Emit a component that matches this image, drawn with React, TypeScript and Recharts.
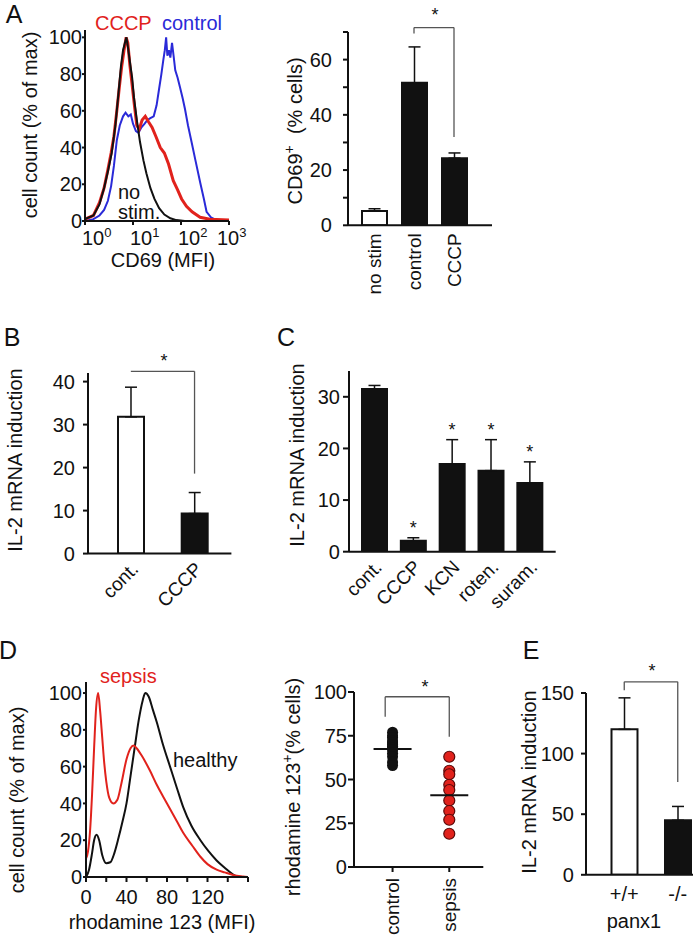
import React from 'react'
import {
  ComposedChart,
  LineChart,
  Line,
  Bar,
  Cell,
  Scatter,
  XAxis,
  YAxis,
  ErrorBar,
  ReferenceLine,
} from 'recharts'

const FONT = '"Liberation Sans", Arial, Helvetica, sans-serif'
const INK = '#111111'
const RED = '#e1221c'
const BLUE = '#2a2ad8'
const GREY = '#555555'

// A, left: CD69 histograms (MFI, log axis)
const noStimX = [1, 1.5, 2, 2.5, 3, 3.6, 4.3, 5, 5.6, 6.2, 6.8, 7.3, 8, 8.8, 9.6, 10.5, 12, 14, 16.5, 19, 23, 28, 35, 45, 60, 80, 120]
const noStimY = [1, 3, 9, 18, 27, 37, 52, 70, 84, 93, 97, 100, 93, 85, 78, 67, 55, 43, 33, 26, 18, 12, 7, 3.5, 1.5, 0.5, 0]
const cccpX = [1, 1.5, 2, 2.5, 3, 3.5, 4, 4.6, 5.2, 5.8, 6.5, 7.2, 7.8, 8.6, 9.6, 10.8, 12, 13.5, 15.5, 18, 21, 25, 30, 37, 45, 55, 69, 85, 103, 130, 170, 250, 400, 1000]
const cccpY = [1, 3, 10, 18, 28, 37, 46, 60, 73, 84, 93, 100, 97, 85, 74, 62, 52, 50, 55, 57, 54, 51, 46, 40, 37, 31, 22, 17, 12, 8, 5, 2, 1, 0.5]
const controlX = [1, 1.5, 2, 2.5, 3, 3.5, 4, 4.6, 5.3, 6.2, 7, 8, 9, 10, 11.5, 13, 15, 17.5, 20, 23, 27, 31, 35, 39, 43, 46, 49, 52, 56, 60, 65, 70, 76, 85, 95, 108, 121, 140, 166, 200, 251, 300, 341, 420, 550, 1000]
const controlY = [0, 1, 3, 6, 11, 19, 30, 44, 52, 57, 59, 57, 58, 53, 49, 48, 51, 53, 55, 56, 57, 63, 72, 80, 88, 93, 100, 90, 93, 89, 97, 90, 82, 78, 73, 67, 61, 52, 43, 33, 21, 12, 5, 2, 0.5, 0]
const histTicks = [0, 20, 40, 60, 80, 100]
const logTicks = [1, 10, 100, 1000]

// A, right: % CD69+ cells
const cd69Groups = ['no stim', 'control', 'CCCP']
const cd69Mean = [5.2, 51.6, 24.3]
const cd69Err = [0.8, 13, 1.9]
const cd69Ticks = [0, 10, 20, 30, 40, 50, 60, 70]

// B
const il2Groups = ['cont.', 'CCCP']
const il2Mean = [31.8, 9.3]
const il2Err = [6.9, 4.9]
const il2Ticks = [0, 10, 20, 30, 40]

// C
const inhGroups = ['cont.', 'CCCP', 'KCN', 'roten.', 'suram.']
const inhMean = [31.5, 2.1, 17.0, 15.7, 13.3]
const inhErr = [0.7, 0.6, 4.7, 6.0, 4.1]
const inhSignificant = [false, true, true, true, true]
const inhTicks = [0, 10, 20, 30]

// D, left: rhodamine 123 histograms
const sepsisX = [0, 2, 4, 6, 8, 10, 12, 14, 16, 18, 20, 23, 27, 31, 35, 40, 44, 47, 50, 55, 63, 70, 80, 90, 96, 105, 113, 120, 129, 137, 146, 155, 160]
const sepsisY = [10, 14, 25, 45, 70, 92, 100, 90, 76, 62, 52, 43, 40, 42, 51, 64, 70, 71.5, 70, 66, 58, 50, 40, 30, 24, 17, 11, 7, 4, 2.5, 1, 0.3, 0]
const healthyX = [0, 3, 6, 8, 10.5, 13, 16, 20, 24, 28, 32, 36, 40, 44, 48, 52, 56, 58.5, 62, 66, 70, 76, 83, 90, 96, 104, 113, 121, 129, 137, 145, 150]
const healthyY = [0, 4, 13, 20, 23, 20, 12, 7.5, 8, 13, 21, 30, 40, 55, 70, 85, 96, 100, 98, 91, 84, 72, 60, 48, 38, 28, 20, 14, 9, 5, 1.5, 0]
const rhoXTicks = [0, 20, 40, 60, 80, 100, 120, 140, 160]

// D, right: rhodamine 123+ cells
const rhoGroups = ['control', 'sepsis']
const rhoControl = [77, 75, 74, 72, 71, 70, 69, 68, 67, 65, 63, 60, 58]
const rhoSepsis = [63, 55, 53, 47, 44, 38, 32, 27, 19]
const rhoMean = [67.5, 41]
const rhoTicks = [0, 25, 50, 75, 100]

// E
const panxGroups = ['+/+', '-/-']
const panxMean = [120, 45]
const panxErr = [26, 11.4]
const panxTicks = [0, 50, 100, 150]

type Box = { x1: number; y1: number; x2: number; y2: number }
const PL = 70
const PT = 40
const PR = 20
const PB = 80
const margin = { top: PT, right: PR, bottom: 0, left: 0 }

function frame(b: Box) {
  return {
    style: { position: 'absolute' as const, left: b.x1 - PL, top: b.y1 - PT },
    width: b.x2 - b.x1 + PL + PR,
    height: b.y2 - b.y1 + PT + PB,
  }
}

const axisLine = { stroke: INK, strokeWidth: 2 }
const tickFont = { fill: INK, fontSize: 20, fontFamily: FONT }
const zip = (xs: number[], ys: number[]) => xs.map((x, i) => ({ x, y: ys[i] }))

function PowTick({ x, y, payload }: any) {
  const e = Math.round(Math.log10(payload.value))
  // the last decade label is pulled in a little, as in the figure
  const left = e === 3 ? x - 12 : x - 3
  return (
    <text x={left} y={y + 18} textAnchor="start" fill={INK} fontSize={20} fontFamily={FONT}>
      10<tspan dy={-8} fontSize={13}>{e}</tspan>
    </text>
  )
}

const vTick = (names?: string[]) => (p: any) => {
  const label = names ? names[p.payload.value - 1] : p.payload.value
  return (
    <text x={p.x} y={p.y} transform={`rotate(-90 ${p.x} ${p.y})`} textAnchor="end" dy="0.35em" fontSize={19} fill={INK} fontFamily={FONT}>
      {label}
    </text>
  )
}

function DiagTick({ x, y, payload }: any) {
  const ax = x + 4
  return (
    <text x={ax} y={y} transform={`rotate(-45 ${ax} ${y})`} textAnchor="end" dy="0.35em" fontSize={19} fill={INK} fontFamily={FONT}>
      {payload.value}
    </text>
  )
}

function StarDot(p: any) {
  if (p.cy == null || p.value == null) return <g key={`s-${p.index}`} />
  return (
    <text key={`s-${p.index}`} x={p.cx} y={p.cy - 4} textAnchor="middle" fontSize={18} fill={INK} fontFamily={FONT}>
      *
    </text>
  )
}

function bracket(id: string, a: any, b: any, top: number, leftEnd: number | null, rightEnd: number) {
  const common = { stroke: GREY, strokeWidth: 1.3, ifOverflow: 'visible' as const }
  const out = [
    <ReferenceLine key={`${id}-t`} segment={[{ x: a, y: top }, { x: b, y: top }]} {...common} />,
    <ReferenceLine key={`${id}-r`} segment={[{ x: b, y: top }, { x: b, y: rightEnd }]} {...common} />,
  ]
  if (leftEnd != null) {
    out.push(<ReferenceLine key={`${id}-l`} segment={[{ x: a, y: top }, { x: a, y: leftEnd }]} {...common} />)
  }
  return out
}

function CD69Histogram() {
  const s = frame({ x1: 85, y1: 30, x2: 229, y2: 221 })
  const lineProps = { dataKey: 'y', dot: false, activeDot: false, type: 'linear' as const, isAnimationActive: false }
  return (
    <div style={s.style}>
      <LineChart width={s.width} height={s.height} margin={margin}>
        <XAxis type="number" dataKey="x" scale="log" domain={[1, 1000]} ticks={logTicks} allowDataOverflow height={PB}
          axisLine={axisLine} tickLine={axisLine} tickSize={4} tickMargin={2} tick={(p: any) => <PowTick {...p} />} interval={0} />
        <YAxis type="number" domain={[0, 104]} ticks={histTicks} allowDataOverflow width={PL}
          axisLine={axisLine} tickLine={axisLine} tickSize={3} tickMargin={0} tick={tickFont} interval={0} />
        <Line {...lineProps} data={zip(controlX, controlY)} stroke={BLUE} strokeWidth={2} />
        <Line {...lineProps} data={zip(cccpX, cccpY)} stroke={RED} strokeWidth={3} />
        <Line {...lineProps} data={zip(noStimX, noStimY)} stroke={INK} strokeWidth={2} />
      </LineChart>
    </div>
  )
}

function BarPanel(props: any) {
  const { box, groups, mean, err, openFirst, domain, ticks, fmt, pad, barSize, xTick, xTickMargin, yTickSize, yTickMargin, stars, children } = props
  const rows = groups.map((g: string, i: number) => ({
    g,
    m: mean[i],
    e: [0, err[i]],
    star: stars && stars[i] ? mean[i] + err[i] : null,
  }))
  const s = frame(box)
  return (
    <div style={s.style}>
      <ComposedChart width={s.width} height={s.height} data={rows} margin={margin}>
        <XAxis dataKey="g" height={PB} padding={pad} axisLine={axisLine} tickLine={false} tickSize={0}
          tickMargin={xTickMargin} tick={xTick} interval={0} />
        <YAxis type="number" domain={domain} ticks={ticks} tickFormatter={fmt} allowDataOverflow width={PL}
          axisLine={axisLine} tickLine={axisLine} tickSize={yTickSize} tickMargin={yTickMargin} tick={tickFont} interval={0} />
        <Bar dataKey="m" barSize={barSize} stroke={INK} strokeWidth={2} isAnimationActive={false}>
          {rows.map((r: any, i: number) => (
            <Cell key={r.g} fill={openFirst && i === 0 ? '#ffffff' : INK} />
          ))}
          <ErrorBar dataKey="e" width={6} stroke={INK} strokeWidth={1.5} />
        </Bar>
        {stars && (
          <Line dataKey="star" stroke="none" dot={StarDot} activeDot={false} isAnimationActive={false} />
        )}
        {children}
      </ComposedChart>
    </div>
  )
}

function RhoHistogram() {
  const s = frame({ x1: 86, y1: 681.7, x2: 248, y2: 876.7 })
  const lineProps = { dataKey: 'y', dot: false, activeDot: false, type: 'monotone' as const, isAnimationActive: false, strokeWidth: 2 }
  return (
    <div style={s.style}>
      <LineChart width={s.width} height={s.height} margin={margin}>
        <XAxis type="number" dataKey="x" domain={[0, 160]} ticks={rhoXTicks} allowDataOverflow height={PB}
          tickFormatter={(v: number) => (v % 40 === 0 && v < 160 ? String(v) : '')}
          axisLine={axisLine} tickLine={axisLine} tickSize={5} tickMargin={8} tick={tickFont} interval={0} />
        <YAxis type="number" domain={[0, 106]} ticks={histTicks} allowDataOverflow width={PL}
          axisLine={axisLine} tickLine={axisLine} tickSize={3} tickMargin={1} tick={tickFont} interval={0} />
        <Line {...lineProps} data={zip(healthyX, healthyY)} stroke={INK} />
        <Line {...lineProps} data={zip(sepsisX, sepsisY)} stroke={RED} />
      </LineChart>
    </div>
  )
}

function RhoScatter() {
  const s = frame({ x1: 354, y1: 692, x2: 483.3, y2: 867 })
  const ctrl = rhoControl.map((v) => ({ x: 1, y: v }))
  const seps = rhoSepsis.map((v) => ({ x: 2, y: v }))
  const mid = rhoMean.map((v, i) => ({ x: i + 1, y: v }))
  return (
    <div style={s.style}>
      <ComposedChart width={s.width} height={s.height} margin={margin}>
        <XAxis type="number" dataKey="x" domain={[0.32, 2.6]} ticks={[1, 2]} allowDataOverflow height={PB}
          axisLine={axisLine} tickLine={axisLine} tickSize={5} tickMargin={6} tick={vTick(rhoGroups)} interval={0} />
        <YAxis type="number" dataKey="y" domain={[0, 100]} ticks={rhoTicks} allowDataOverflow width={PL}
          axisLine={axisLine} tickLine={axisLine} tickSize={6} tickMargin={1} tick={tickFont} interval={0} />
        <Scatter data={ctrl} isAnimationActive={false}
          shape={(p: any) => <circle cx={p.cx} cy={p.cy} r={5.5} fill={INK} />} />
        <Scatter data={seps} isAnimationActive={false}
          shape={(p: any) => <circle cx={p.cx} cy={p.cy} r={5.5} fill={RED} stroke="#5a0a0a" strokeWidth={1.2} />} />
        <Scatter data={mid} isAnimationActive={false}
          shape={(p: any) => <line x1={p.cx - 19} x2={p.cx + 19} y1={p.cy} y2={p.cy} stroke={INK} strokeWidth={2} />} />
        {bracket('d', 0.87, 2, 97.3, 85.9, 74.5)}
      </ComposedChart>
    </div>
  )
}

function Label({ x, y, children, size = 20, color = INK, rotate = false, align = 'center' }: any) {
  const tx = align === 'left' ? '0' : '-50%'
  return (
    <div
      style={{
        position: 'absolute',
        left: x,
        top: y,
        transform: `translate(${tx}, -50%)${rotate ? ' rotate(-90deg)' : ''}`,
        fontSize: size,
        lineHeight: 1.1,
        color,
        whiteSpace: 'nowrap',
        fontFamily: FONT,
      }}
    >
      {children}
    </div>
  )
}

const sup = { fontSize: '0.7em', lineHeight: 0, verticalAlign: 'super' as const }

export default function App() {
  return (
    <div style={{ position: 'absolute', left: 0, top: 0, width: 693, height: 950, overflow: 'hidden', background: '#fff' }}>
      <CD69Histogram />
      <BarPanel
        box={{ x1: 348, y1: 31.7, x2: 492, y2: 225 }}
        groups={cd69Groups} mean={cd69Mean} err={cd69Err} openFirst
        domain={[0, 70]} ticks={cd69Ticks} fmt={(v: number) => (v % 20 === 0 ? String(v) : '')}
        pad={{ left: 6, right: 18 }} barSize={25}
        xTick={vTick()} xTickMargin={8} yTickSize={5} yTickMargin={11}
      >
        {bracket('a', 'control', 'CCCP', 71.6, 69.5, 32)}
      </BarPanel>
      <BarPanel
        box={{ x1: 88.3, y1: 372.7, x2: 231.7, y2: 553.3 }}
        groups={il2Groups} mean={il2Mean} err={il2Err} openFirst
        domain={[0, 42]} ticks={il2Ticks}
        pad={{ left: 11, right: 5 }} barSize={26}
        xTick={(p: any) => <DiagTick {...p} />} xTickMargin={12} yTickSize={5} yTickMargin={8}
      >
        {bracket('b', 'cont.', 'CCCP', 42.4, null, 18.6)}
      </BarPanel>
      <BarPanel
        box={{ x1: 349.3, y1: 371, x2: 556, y2: 551.7 }}
        groups={inhGroups} mean={inhMean} err={inhErr} stars={inhSignificant}
        domain={[0, 35]} ticks={inhTicks}
        pad={{ left: 6, right: 6.5 }} barSize={25}
        xTick={(p: any) => <DiagTick {...p} />} xTickMargin={12} yTickSize={6} yTickMargin={3}
      />
      <RhoHistogram />
      <RhoScatter />
      <BarPanel
        box={{ x1: 585.5, y1: 692.7, x2: 709, y2: 874.5 }}
        groups={panxGroups} mean={panxMean} err={panxErr} openFirst
        domain={[0, 150]} ticks={panxTicks}
        pad={{ left: 11.5, right: 5 }} barSize={26}
        xTick={tickFont} xTickMargin={12} yTickSize={5} yTickMargin={7}
      >
        {bracket('e', '+/+', '-/-', 159.2, 152.2, 76.6)}
      </BarPanel>

      <Label x={14} y={15} size={25}>A</Label>
      <Label x={95} y={23} color={RED} align="left">CCCP</Label>
      <Label x={162} y={23} color={BLUE} align="left">control</Label>
      <Label x={118} y={192} align="left">no</Label>
      <Label x={118} y={212} align="left">stim.</Label>
      <Label x={30} y={125} rotate>cell count (% of max)</Label>
      <Label x={163} y={260}>CD69 (MFI)</Label>
      <Label x={295} y={131} rotate>CD69<sup style={sup}>+</sup>&nbsp;&nbsp;(% cells)</Label>
      <Label x={435} y={16} size={18}>*</Label>

      <Label x={12} y={338} size={25}>B</Label>
      <Label x={15} y={460} rotate>IL-2 mRNA induction</Label>
      <Label x={164} y={362} size={18}>*</Label>

      <Label x={286} y={338} size={25}>C</Label>
      <Label x={297} y={455} rotate>IL-2 mRNA induction</Label>

      <Label x={8} y={651} size={25}>D</Label>
      <Label x={100} y={676} color={RED} align="left">sepsis</Label>
      <Label x={173} y={760} align="left">healthy</Label>
      <Label x={17} y={800} rotate>cell count (% of max)</Label>
      <Label x={162} y={922}>rhodamine 123 (MFI)</Label>
      <Label x={293} y={787} rotate>rhodamine 123<sup style={sup}>+</sup>(% cells)</Label>
      <Label x={425} y={688} size={18}>*</Label>

      <Label x={531} y={651} size={25}>E</Label>
      <Label x={529} y={782} rotate>IL-2 mRNA induction</Label>
      <Label x={652} y={672} size={18}>*</Label>
      <Label x={634} y={921}>panx1</Label>
    </div>
  )
}
